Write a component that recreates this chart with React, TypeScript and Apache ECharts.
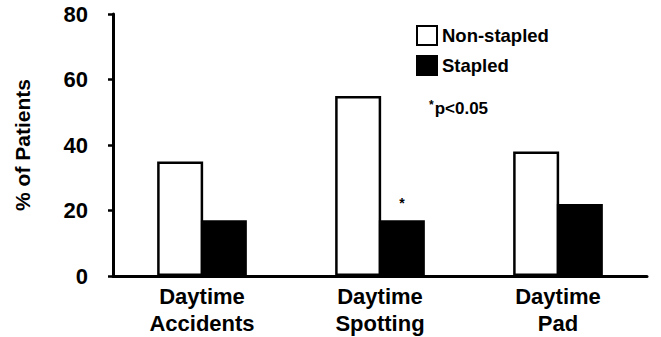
import React, { useEffect, useRef } from "react";
import * as echarts from "echarts";

const categories = ["Daytime\nAccidents", "Daytime\nSpotting", "Daytime\nPad"];
const nonStapled = [35, 55, 38];
const stapled = [17, 17, 22];
const significant = [false, true, false];
const yTicks = [0, 20, 40, 60, 80];

const FONT = "'Liberation Sans', Arial, Helvetica, sans-serif";

export default function App() {
  const ref = useRef<HTMLDivElement>(null);
  useEffect(() => {
    if (!ref.current) return;
    const chart = echarts.init(ref.current, undefined, { renderer: "svg" });
    chart.setOption({
      animation: false,
      backgroundColor: "#fff",
      textStyle: { fontFamily: FONT },
      grid: { left: 113, right: 14, top: 14, bottom: 59, containLabel: false },
      legend: {
        orient: "vertical",
        left: 411,
        top: 20,
        itemWidth: 20,
        itemHeight: 19,
        itemGap: 9,
        textStyle: { fontFamily: FONT, fontWeight: "bold", fontSize: 18.5, color: "#000" },
        data: [
          { name: "Non-stapled", icon: "rect" },
          { name: "Stapled", icon: "rect" },
        ],
      },
      graphic: [
        {
          type: "text",
          left: 429,
          top: 99,
          style: {
            text: "{s|*}{t|p<0.05}",
            rich: {
              s: { fontSize: 12, fontWeight: "bold", fill: "#000", verticalAlign: "top", padding: [0, 1, 6, 0] },
              t: { fontSize: 17, fontWeight: "bold", fill: "#000", fontFamily: FONT },
            },
            font: `bold 17px ${FONT}`,
            fill: "#000",
          },
        },
      ],
      xAxis: {
        type: "category",
        data: categories,
        axisLine: { show: true, lineStyle: { color: "#000", width: 3 } },
        axisTick: { show: false },
        axisLabel: {
          color: "#000",
          fontWeight: "bold",
          fontSize: 22,
          fontFamily: FONT,
          lineHeight: 27,
          margin: 7,
        },
      },
      yAxis: {
        type: "value",
        min: 0,
        max: yTicks[yTicks.length - 1],
        interval: 20,
        name: "% of Patients",
        nameLocation: "middle",
        nameGap: 80,
        nameTextStyle: { color: "#000", fontWeight: "bold", fontSize: 21, fontFamily: FONT },
        axisLine: { show: true, lineStyle: { color: "#000", width: 3 } },
        axisTick: { show: true, inside: false, length: 5, lineStyle: { color: "#000", width: 2.5 } },
        splitLine: { show: false },
        axisLabel: {
          color: "#000",
          fontWeight: "bold",
          fontSize: 22,
          fontFamily: FONT,
          margin: 25,
        },
      },
      series: [
        {
          name: "Non-stapled",
          type: "bar",
          data: nonStapled,
          barWidth: 46,
          barGap: "-5%",
          itemStyle: { color: "#fff", borderColor: "#000", borderWidth: 2.5 },
        },
        {
          name: "Stapled",
          type: "bar",
          data: stapled.map((v, i) => ({
            value: v,
            label: significant[i]
              ? { show: true, position: "top", formatter: "*", fontSize: 14, fontWeight: "bold", color: "#000", distance: 10 }
              : { show: false },
          })),
          barWidth: 46,
          itemStyle: { color: "#000", borderColor: "#000", borderWidth: 2.5 },
        },
      ],
    });
    return () => chart.dispose();
  }, []);
  return (
    <div
      ref={ref}
      style={{ position: "fixed", left: 0, top: 0, width: 661, height: 337 }}
    />
  );
}
